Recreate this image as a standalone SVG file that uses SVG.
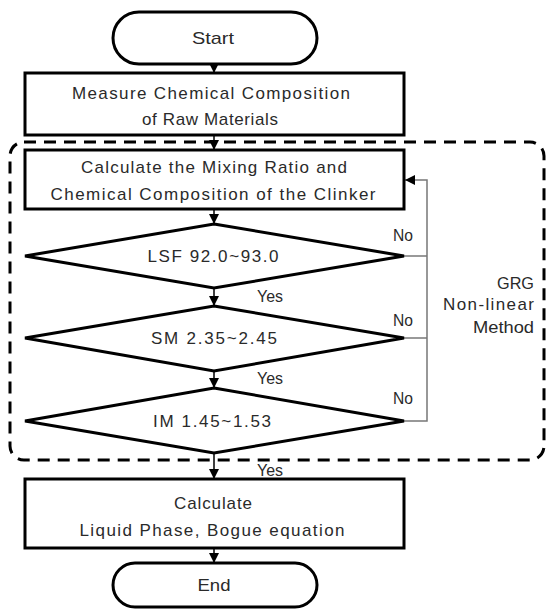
<svg xmlns="http://www.w3.org/2000/svg" width="547" height="609" viewBox="0 0 547 609">
  <defs>
    <marker id="arrow" viewBox="0 0 10 10" refX="10" refY="5" markerWidth="10" markerHeight="10" markerUnits="userSpaceOnUse" orient="auto">
      <path d="M0,0 L10,5 L0,10 z" fill="#000"/>
    </marker>
    <style>
      .shape { fill: #fff; stroke: #000; stroke-width: 3; }
      .label { font-family: "Liberation Sans", Arial, sans-serif; font-size: 17px; fill: #2a2a2a; text-anchor: middle; }
      .side { font-family: "Liberation Sans", Arial, sans-serif; font-size: 17px; fill: #2a2a2a; text-anchor: end; }
      .flow { fill: none; stroke: #000; stroke-width: 1.5; marker-end: url(#arrow); }
      .loop { fill: none; stroke: #777; stroke-width: 1.5; }
      .group { fill: none; stroke: #000; stroke-width: 3; stroke-dasharray: 12 8; }
    </style>
  </defs>
  <rect width="547" height="609" fill="#fff"/>

  <!-- optimisation loop boundary -->
  <rect class="group" x="10" y="142" width="534" height="318" rx="14"/>

  <g id="connectors">
    <line class="flow" x1="214" y1="64" x2="214" y2="73"/>
    <line class="flow" x1="214" y1="135" x2="214" y2="150"/>
    <line class="flow" x1="214" y1="209" x2="214" y2="224"/>
    <line class="flow" x1="214" y1="288" x2="214" y2="306"/>
    <line class="flow" x1="214" y1="371" x2="214" y2="388"/>
    <line class="flow" x1="214" y1="453" x2="214" y2="479"/>
    <line class="flow" x1="214" y1="548" x2="214" y2="563"/>
    <polyline class="loop" points="404,256 427,256"/>
    <polyline class="loop" points="404,338 427,338"/>
    <polyline class="loop" points="404,421 427,421 427,180 414,180"/>
    <line class="flow" x1="414" y1="180" x2="405" y2="180" style="stroke:#777"/>
    <text class="label" x="403" y="241" textLength="20" lengthAdjust="spacingAndGlyphs">No</text>
    <text class="label" x="403" y="326" textLength="20" lengthAdjust="spacingAndGlyphs">No</text>
    <text class="label" x="403" y="404" textLength="20" lengthAdjust="spacingAndGlyphs">No</text>
    <text class="label" x="270" y="302" textLength="26" lengthAdjust="spacingAndGlyphs">Yes</text>
    <text class="label" x="270" y="384" textLength="26" lengthAdjust="spacingAndGlyphs">Yes</text>
    <text class="label" x="270" y="476" textLength="26" lengthAdjust="spacingAndGlyphs">Yes</text>
  </g>

  <g id="start">
    <rect class="shape" x="113" y="12" width="204" height="52" rx="26"/>
    <text class="label" x="213" y="44" textLength="42" lengthAdjust="spacingAndGlyphs">Start</text>
  </g>

  <g id="measure">
    <rect class="shape" x="25" y="73" width="379" height="62"/>
    <text class="label" x="211" y="99" textLength="278" lengthAdjust="spacing">Measure Chemical Composition</text>
    <text class="label" x="210" y="125" textLength="136" lengthAdjust="spacing">of Raw Materials</text>
  </g>

  <g id="mixing">
    <rect class="shape" x="25" y="150" width="379" height="59"/>
    <text class="label" x="214" y="173" textLength="266" lengthAdjust="spacing">Calculate the Mixing Ratio and</text>
    <text class="label" x="213" y="200" textLength="325" lengthAdjust="spacing">Chemical Composition of the Clinker</text>
  </g>

  <g id="lsf">
    <polygon class="shape" points="214,224 404,256 214,288 25,256"/>
    <text class="label" x="213" y="262" textLength="131" lengthAdjust="spacing">LSF 92.0~93.0</text>
  </g>

  <g id="sm">
    <polygon class="shape" points="214,306 404,338 214,371 25,338"/>
    <text class="label" x="214" y="344" textLength="126" lengthAdjust="spacing">SM 2.35~2.45</text>
  </g>

  <g id="im">
    <polygon class="shape" points="214,388 404,421 214,453 25,421"/>
    <text class="label" x="212" y="427" textLength="118" lengthAdjust="spacing">IM 1.45~1.53</text>
  </g>

  <g id="method">
    <text class="side" x="534" y="289" textLength="37" lengthAdjust="spacingAndGlyphs">GRG</text>
    <text class="side" x="534" y="310" textLength="91" lengthAdjust="spacing">Non-linear</text>
    <text class="side" x="534" y="333" textLength="61" lengthAdjust="spacingAndGlyphs">Method</text>
  </g>

  <g id="bogue">
    <rect class="shape" x="25" y="479" width="379" height="69"/>
    <text class="label" x="213" y="509" textLength="78" lengthAdjust="spacing">Calculate</text>
    <text class="label" x="212" y="536" textLength="265" lengthAdjust="spacing">Liquid Phase, Bogue equation</text>
  </g>

  <g id="end">
    <rect class="shape" x="113" y="563" width="204" height="44" rx="22"/>
    <text class="label" x="214" y="591" textLength="33" lengthAdjust="spacingAndGlyphs">End</text>
  </g>
</svg>
